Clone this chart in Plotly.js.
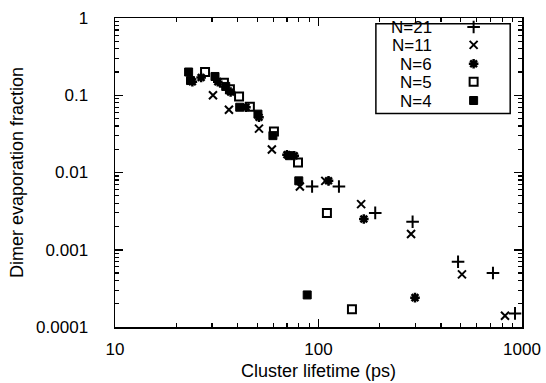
<!DOCTYPE html>
<html><head><meta charset="utf-8">
<script src="https://cdn.plot.ly/plotly-3.0.1.min.js"></script>
<style>html,body{margin:0;padding:0;background:#fff}#c{width:546px;height:383px}</style>
</head><body><div id="c"></div>
<script>
const seriesNames = ["N=21", "N=11", "N=6", "N=5", "N=4"];
const n21_x = [93, 126, 190, 290, 485, 720, 924];
const n21_y = [0.0066, 0.0066, 0.003, 0.0023, 0.0007, 0.0005, 0.00015];
const n11_x = [30.3, 36.3, 51, 59, 81, 108, 162, 285, 507, 825];
const n11_y = [0.1, 0.065, 0.037, 0.0198, 0.0066, 0.0078, 0.0039, 0.0016, 0.00048, 0.00014];
const n6_x = [24, 26.5, 32, 37, 44, 51, 70, 76, 112, 167, 298];
const n6_y = [0.15, 0.17, 0.15, 0.11, 0.07, 0.052, 0.017, 0.0165, 0.0078, 0.0025, 0.00024];
const n5_x = [27.7, 34.3, 36.7, 40.7, 46, 60.4, 79.3, 110, 146];
const n5_y = [0.2, 0.145, 0.12, 0.096, 0.071, 0.034, 0.0135, 0.003, 0.00017];
const n4_x = [23, 23.5, 31, 35, 41, 50.4, 59.7, 72, 80, 88];
const n4_y = [0.2, 0.155, 0.175, 0.13, 0.07, 0.057, 0.03, 0.0165, 0.0078, 0.00026];
const xTickVals = [10, 100, 1000];
const xTickText = ["10", "100", "1000"];
const yTickVals = [0.0001, 0.001, 0.01, 0.1, 1];
const yTickText = ["0.0001", "0.001", "0.01", "0.1", "1"];

const xs = [n21_x, n11_x, n6_x, n5_x, n4_x];
const ys = [n21_y, n11_y, n6_y, n5_y, n4_y];
const symbols = ["cross-thin-open", "x-thin-open", "asterisk-open", "square-open", "square"];
const sizes = [9, 8, 8, 8, 8];
const lw = [2, 2, 2.5, 2, 1];
const legendIds = ["legend", "legend2", "legend3", "legend4", "legend5"];

const traces = seriesNames.map((n, i) => ({
  x: xs[i], y: ys[i], type: "scatter", mode: "markers", name: " ", legend: legendIds[i],
  marker: {symbol: symbols[i], size: sizes[i], color: "black", line: {color: "black", width: lw[i]}}
}));

function minorVals(lo, hi) {
  const v = [];
  for (let e = lo; e < hi; e++) for (let d = 2; d <= 9; d++) v.push(d * Math.pow(10, e));
  return v;
}

const font = "Liberation Sans, Arial, Helvetica, sans-serif";
const axisCommon = {
  type: "log", showgrid: false, zeroline: false, showline: true, linecolor: "black", linewidth: 1.5,
  mirror: "allticks", ticks: "inside", ticklen: 8, tickwidth: 1.5, tickcolor: "black",
  tickmode: "array", tickfont: {family: font, size: 17, color: "black"}
};

const legendRows = [0.971, 0.913, 0.852, 0.794, 0.733];
const annotations = seriesNames.map((n, i) => ({
  xref: "paper", yref: "paper", x: 0.784, y: legendRows[i], xanchor: "right", yanchor: "middle",
  height: 16, valign: "middle",
  text: n, showarrow: false, font: {family: font, size: 17, color: "black"}
}));

const layout = {
  width: 546, height: 383,
  margin: {l: 115, r: 24, t: 16, b: 56},
  paper_bgcolor: "white", plot_bgcolor: "white",
  showlegend: true,
  xaxis: Object.assign({}, axisCommon, {
    range: [1, 3], tickvals: xTickVals, ticktext: xTickText, ticklabelstandoff: 6,
    minor: {tickmode: "array", tickvals: minorVals(1, 3), ticks: "inside", ticklen: 4, tickwidth: 1.2, tickcolor: "black"},
    title: {text: "Cluster lifetime (ps)", font: {family: font, size: 18, color: "black"}, standoff: 6}
  }),
  yaxis: Object.assign({}, axisCommon, {
    range: [-4, 0], tickvals: yTickVals, ticktext: yTickText, ticklabelstandoff: 22,
    minor: {tickmode: "array", tickvals: minorVals(-4, 0), ticks: "inside", ticklen: 4, tickwidth: 1.2, tickcolor: "black"},
    title: {text: "Dimer evaporation fraction", font: {family: font, size: 18, color: "black"}, standoff: 8}
  }),
  shapes: [{type: "rect", xref: "paper", yref: "paper", x0: 0.641, x1: 0.971, y0: 0.691, y1: 0.981,
            line: {color: "black", width: 1.5}, fillcolor: "rgba(0,0,0,0)"}],
  annotations: annotations
};
legendIds.forEach((id, i) => {
  layout[id] = {x: 0.832, y: legendRows[i], xanchor: "left", yanchor: "middle", bgcolor: "rgba(0,0,0,0)",
                borderwidth: 0, font: {family: font, size: 9}, itemwidth: 30};
});

Plotly.newPlot("c", traces, layout, {staticPlot: true, displayModeBar: false});
</script></body></html>
